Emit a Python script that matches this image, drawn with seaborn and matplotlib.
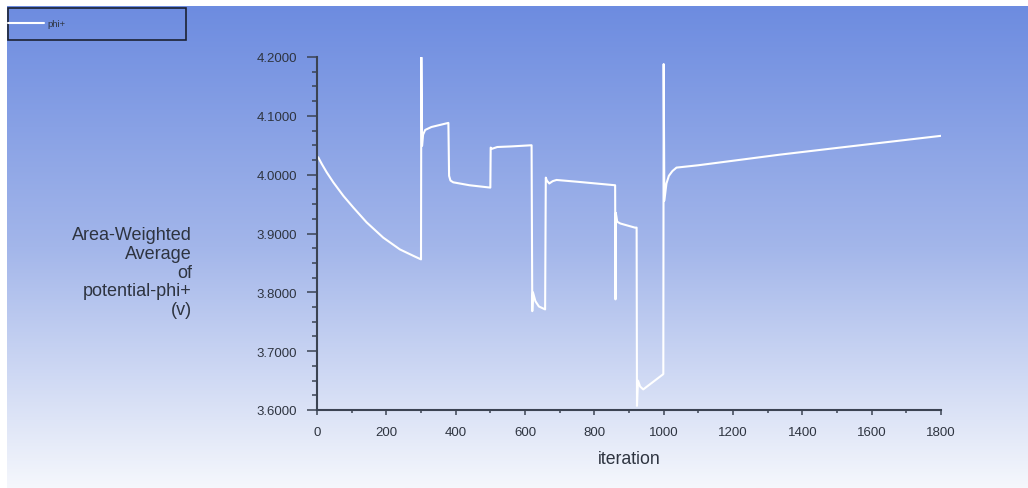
import numpy as np
import pandas as pd
import matplotlib
matplotlib.use('Agg')
import matplotlib.pyplot as plt
import seaborn as sns
from matplotlib.ticker import MultipleLocator, FormatStrFormatter
from matplotlib.patches import Rectangle
from matplotlib.colors import LinearSegmentedColormap

# ==================== 数据 ====================
iteration = [0, 4, 14, 28, 47, 76, 105, 143, 191, 239, 278, 300,
             301, 303, 306, 312, 330, 379,
             381, 385, 393, 440, 500,
             501, 505, 520, 560, 619,
             621, 623, 630, 640, 658,
             660, 663, 670, 680, 691, 750, 860,
             861, 862, 866, 875, 917, 922,
             923, 926, 932, 941, 970, 999,
             1000, 1002, 1008, 1015, 1025, 1037, 1100, 1335, 1508, 1800]
phi_plus = [4.031, 4.029, 4.018, 4.004, 3.987, 3.964, 3.944, 3.919, 3.893, 3.873, 3.862, 3.856,
            4.1995, 4.049, 4.068, 4.076, 4.081, 4.088,
            3.998, 3.990, 3.987, 3.982, 3.978,
            4.046, 4.044, 4.047, 4.048, 4.050,
            3.768, 3.800, 3.785, 3.776, 3.771,
            3.995, 3.990, 3.985, 3.989, 3.991, 3.988, 3.982,
            3.788, 3.935, 3.920, 3.917, 3.910, 3.910,
            3.607, 3.650, 3.640, 3.635, 3.648, 3.661,
            4.188, 3.956, 3.985, 3.998, 4.006, 4.012, 4.016, 4.034, 4.046, 4.066]

x_ticks = [0, 200, 400, 600, 800, 1000, 1200, 1400, 1600, 1800]
y_ticks = [3.6, 3.7, 3.8, 3.9, 4.0, 4.1, 4.2]

df = pd.DataFrame({'iteration': iteration, 'phi+': phi_plus})

# ==================== 样式 ====================
sns.set_style('ticks')
plt.rcParams['font.family'] = ['Liberation Sans', 'DejaVu Sans']
axis_col = '#3b4352'
text_col = '#2e3440'

W, H = 1028, 489
fig = plt.figure(figsize=(W / 100, H / 100), dpi=100, facecolor='white')

# 渐变背景
bg = fig.add_axes([7 / W, 0, 1 - 7 / W, 1 - 7 / H], zorder=-5)
cmap = LinearSegmentedColormap.from_list('bg', ['#6d8ce0', '#a3b6ea', '#f5f7fc'])
grad = np.linspace(0, 1, 256).reshape(-1, 1)
bg.imshow(grad, aspect='auto', cmap=cmap, extent=[0, 1, 0, 1], origin='upper')
bg.axis('off')

ax = fig.add_axes([317 / W, 1 - 411 / H, (941 - 317) / W, (411 - 58) / H])
ax.set_facecolor('none')

sns.lineplot(data=df, x='iteration', y='phi+', sort=False, estimator=None,
             color='white', lw=1.5, ax=ax, label='phi+')
ax.get_legend().remove()

ax.set_xlim(0, 1800)
ax.set_ylim(3.6, 4.2)
ax.set_xticks(x_ticks)
ax.set_yticks(y_ticks)
ax.xaxis.set_minor_locator(MultipleLocator(100))
ax.yaxis.set_minor_locator(MultipleLocator(0.025))
ax.yaxis.set_major_formatter(FormatStrFormatter('%.4f'))

for s in ['top', 'right']:
    ax.spines[s].set_visible(False)
for s in ['left', 'bottom']:
    ax.spines[s].set_color(axis_col)
    ax.spines[s].set_linewidth(1.5)

ax.tick_params(axis='y', which='major', length=7.5, width=1.1, color=axis_col,
               labelsize=9.5, labelcolor=text_col, pad=7)
ax.tick_params(axis='y', which='minor', length=3.6, width=1.1, color=axis_col)
ax.tick_params(axis='x', which='major', length=3.8, width=1.1, color=axis_col,
               labelsize=9.5, labelcolor=text_col, pad=7.5)
ax.tick_params(axis='x', which='minor', length=2, width=1.1, color=axis_col)

ax.set_xlabel('iteration', fontsize=12.7, color=text_col, labelpad=9)
ax.set_ylabel('')
fig.text(192 / W, 1 - 273 / H, 'Area-Weighted\nAverage\nof\npotential-phi+\n(v)',
         ha='right', va='center', multialignment='right', fontsize=13,
         color=text_col, linespacing=1.15)

# 图例框
fig.patches.append(Rectangle((7.5 / W, 1 - 40.5 / H), (186 - 7.5) / W, (40.5 - 8.5) / H,
                             transform=fig.transFigure, facecolor='none',
                             edgecolor='#1c2233', lw=1.2))
handles, labels = ax.get_legend_handles_labels()
fig.legend(handles, labels, loc='center left', bbox_to_anchor=(8 / W, 1 - 24.5 / H),
           frameon=False, fontsize=6.8, handlelength=3.8, handletextpad=0.35,
           borderaxespad=0, borderpad=0, labelcolor=text_col)

plt.savefig('out.png', dpi=100)
